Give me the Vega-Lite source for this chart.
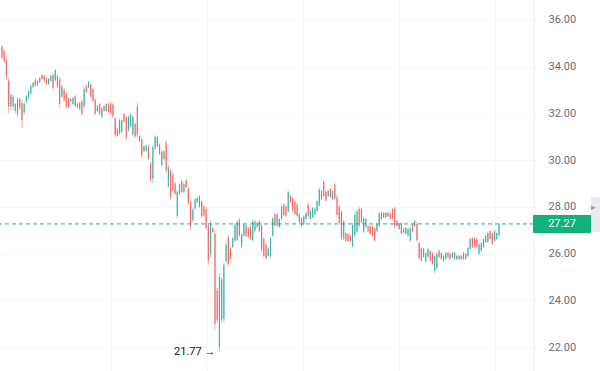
{
"$schema":"https://vega.github.io/schema/vega-lite/v6.json",
"width":534,"height":371,
"autosize":{"type":"none"},
"padding":{"left":0,"top":0,"right":66,"bottom":0},
"background":"#ffffff",
"config":{"view":{"stroke":null},"font":"Roboto"},
"datasets":{"ohlc":[
{"t":0,"o":34.85,"h":34.93,"l":34.29,"c":34.40},
{"t":1,"o":34.65,"h":34.72,"l":34.16,"c":34.25},
{"t":2,"o":34.30,"h":34.42,"l":33.43,"c":33.60},
{"t":3,"o":33.40,"h":33.56,"l":32.02,"c":32.30},
{"t":4,"o":32.30,"h":32.87,"l":32.15,"c":32.80},
{"t":5,"o":32.70,"h":32.79,"l":32.15,"c":32.30},
{"t":6,"o":32.10,"h":32.45,"l":32.02,"c":32.40},
{"t":7,"o":32.00,"h":32.70,"l":31.80,"c":32.60},
{"t":8,"o":32.62,"h":32.70,"l":32.15,"c":32.25},
{"t":9,"o":32.45,"h":32.58,"l":31.38,"c":31.70},
{"t":10,"o":32.05,"h":32.49,"l":31.93,"c":32.40},
{"t":11,"o":32.50,"h":32.79,"l":32.45,"c":32.75},
{"t":12,"o":32.65,"h":33.00,"l":32.58,"c":32.95},
{"t":13,"o":32.85,"h":33.22,"l":32.79,"c":33.17},
{"t":14,"o":33.12,"h":33.35,"l":33.09,"c":33.30},
{"t":15,"o":33.45,"h":33.52,"l":33.13,"c":33.20},
{"t":16,"o":33.20,"h":33.43,"l":33.17,"c":33.40},
{"t":17,"o":33.33,"h":33.56,"l":33.30,"c":33.52},
{"t":18,"o":33.65,"h":33.69,"l":33.43,"c":33.47},
{"t":19,"o":33.60,"h":33.65,"l":33.35,"c":33.40},
{"t":20,"o":33.50,"h":33.56,"l":33.22,"c":33.27},
{"t":21,"o":33.26,"h":33.52,"l":33.22,"c":33.48},
{"t":22,"o":33.40,"h":33.65,"l":33.35,"c":33.60},
{"t":23,"o":33.65,"h":33.73,"l":33.00,"c":33.10},
{"t":24,"o":33.42,"h":33.90,"l":33.35,"c":33.85},
{"t":25,"o":33.58,"h":33.65,"l":33.09,"c":33.15},
{"t":26,"o":33.45,"h":33.56,"l":32.23,"c":32.40},
{"t":27,"o":32.72,"h":33.22,"l":32.66,"c":33.15},
{"t":28,"o":33.00,"h":33.09,"l":32.49,"c":32.55},
{"t":29,"o":32.85,"h":32.92,"l":32.23,"c":32.30},
{"t":30,"o":32.65,"h":32.70,"l":32.23,"c":32.28},
{"t":31,"o":32.52,"h":32.66,"l":32.49,"c":32.62},
{"t":32,"o":32.40,"h":32.70,"l":32.36,"c":32.66},
{"t":33,"o":32.72,"h":32.79,"l":32.28,"c":32.33},
{"t":34,"o":32.42,"h":32.45,"l":32.23,"c":32.26},
{"t":35,"o":32.20,"h":32.49,"l":32.15,"c":32.45},
{"t":36,"o":32.50,"h":32.58,"l":31.93,"c":32.00},
{"t":37,"o":32.30,"h":33.13,"l":32.23,"c":33.05},
{"t":38,"o":33.15,"h":33.22,"l":32.87,"c":32.92},
{"t":39,"o":33.12,"h":33.39,"l":33.09,"c":33.35},
{"t":40,"o":33.25,"h":33.30,"l":32.66,"c":32.72},
{"t":41,"o":33.02,"h":33.09,"l":32.49,"c":32.55},
{"t":42,"o":32.58,"h":32.66,"l":31.93,"c":32.00},
{"t":43,"o":32.10,"h":32.36,"l":32.06,"c":32.32},
{"t":44,"o":32.40,"h":32.45,"l":31.93,"c":32.00},
{"t":45,"o":31.85,"h":32.28,"l":31.80,"c":32.22},
{"t":46,"o":32.32,"h":32.36,"l":32.06,"c":32.10},
{"t":47,"o":32.10,"h":32.45,"l":32.06,"c":32.40},
{"t":48,"o":32.40,"h":32.45,"l":32.02,"c":32.06},
{"t":49,"o":32.42,"h":32.49,"l":31.93,"c":32.00},
{"t":50,"o":32.38,"h":32.45,"l":31.80,"c":31.88},
{"t":51,"o":31.78,"h":31.85,"l":30.99,"c":31.08},
{"t":52,"o":31.32,"h":31.38,"l":30.99,"c":31.03},
{"t":53,"o":31.15,"h":31.80,"l":31.08,"c":31.72},
{"t":54,"o":31.22,"h":31.76,"l":31.16,"c":31.70},
{"t":55,"o":31.97,"h":32.02,"l":31.59,"c":31.65},
{"t":56,"o":31.85,"h":31.93,"l":30.86,"c":30.98},
{"t":57,"o":31.28,"h":31.93,"l":31.21,"c":31.86},
{"t":58,"o":31.45,"h":32.02,"l":31.38,"c":31.95},
{"t":59,"o":31.10,"h":31.93,"l":30.99,"c":31.85},
{"t":60,"o":31.55,"h":31.63,"l":30.95,"c":31.02},
{"t":61,"o":32.30,"h":32.49,"l":30.95,"c":31.10},
{"t":62,"o":31.04,"h":31.08,"l":30.78,"c":30.82},
{"t":63,"o":30.90,"h":30.99,"l":30.09,"c":30.20},
{"t":64,"o":30.38,"h":30.65,"l":30.35,"c":30.60},
{"t":65,"o":30.40,"h":30.65,"l":30.35,"c":30.62},
{"t":66,"o":30.58,"h":30.65,"l":30.01,"c":30.08},
{"t":67,"o":29.85,"h":29.92,"l":29.07,"c":29.15},
{"t":68,"o":29.20,"h":30.65,"l":29.02,"c":30.55},
{"t":69,"o":30.50,"h":31.08,"l":30.43,"c":31.00},
{"t":70,"o":30.60,"h":31.03,"l":30.56,"c":30.98},
{"t":71,"o":30.68,"h":30.73,"l":30.22,"c":30.28},
{"t":72,"o":29.78,"h":30.43,"l":29.71,"c":30.36},
{"t":73,"o":30.38,"h":30.43,"l":30.01,"c":30.05},
{"t":74,"o":30.75,"h":30.86,"l":29.45,"c":29.55},
{"t":75,"o":28.90,"h":29.79,"l":28.80,"c":29.70},
{"t":76,"o":29.55,"h":29.66,"l":28.29,"c":28.40},
{"t":77,"o":29.38,"h":29.45,"l":28.64,"c":28.72},
{"t":78,"o":29.00,"h":29.07,"l":28.51,"c":28.56},
{"t":79,"o":27.62,"h":28.72,"l":27.52,"c":28.65},
{"t":80,"o":28.56,"h":29.02,"l":28.51,"c":28.96},
{"t":81,"o":29.08,"h":29.15,"l":28.59,"c":28.64},
{"t":82,"o":28.64,"h":29.02,"l":28.59,"c":28.97},
{"t":83,"o":29.14,"h":29.19,"l":28.81,"c":28.85},
{"t":84,"o":28.78,"h":28.85,"l":28.08,"c":28.15},
{"t":85,"o":28.20,"h":28.29,"l":27.01,"c":27.15},
{"t":86,"o":27.42,"h":27.95,"l":27.35,"c":27.88},
{"t":87,"o":27.92,"h":28.38,"l":27.87,"c":28.33},
{"t":88,"o":28.20,"h":28.42,"l":28.17,"c":28.38},
{"t":89,"o":28.00,"h":28.51,"l":27.95,"c":28.46},
{"t":90,"o":28.22,"h":28.29,"l":27.52,"c":27.60},
{"t":91,"o":28.02,"h":28.08,"l":27.57,"c":27.62},
{"t":92,"o":27.90,"h":28.00,"l":27.01,"c":27.10},
{"t":93,"o":27.20,"h":27.31,"l":25.51,"c":25.70},
{"t":94,"o":26.00,"h":27.44,"l":25.81,"c":27.30},
{"t":95,"o":27.10,"h":27.14,"l":26.88,"c":26.92},
{"t":96,"o":26.85,"h":27.01,"l":22.73,"c":23.00},
{"t":97,"o":24.40,"h":24.53,"l":23.03,"c":23.15},
{"t":98,"o":22.00,"h":25.17,"l":21.77,"c":25.00},
{"t":99,"o":23.15,"h":25.00,"l":23.03,"c":24.90},
{"t":100,"o":23.20,"h":25.60,"l":23.03,"c":25.50},
{"t":101,"o":25.68,"h":26.45,"l":25.60,"c":26.38},
{"t":102,"o":26.70,"h":26.80,"l":25.43,"c":25.55},
{"t":103,"o":26.22,"h":26.28,"l":25.73,"c":25.78},
{"t":104,"o":26.28,"h":26.71,"l":26.24,"c":26.66},
{"t":105,"o":26.56,"h":27.31,"l":26.50,"c":27.24},
{"t":106,"o":26.58,"h":27.44,"l":26.50,"c":27.36},
{"t":107,"o":27.45,"h":27.52,"l":26.71,"c":26.78},
{"t":108,"o":26.30,"h":26.88,"l":26.24,"c":26.82},
{"t":109,"o":26.76,"h":27.31,"l":26.71,"c":27.26},
{"t":110,"o":27.18,"h":27.22,"l":26.71,"c":26.76},
{"t":111,"o":27.10,"h":27.14,"l":26.67,"c":26.72},
{"t":112,"o":27.16,"h":27.22,"l":26.58,"c":26.64},
{"t":113,"o":26.58,"h":27.44,"l":26.50,"c":27.38},
{"t":114,"o":26.98,"h":27.44,"l":26.92,"c":27.38},
{"t":115,"o":27.14,"h":27.35,"l":27.10,"c":27.31},
{"t":116,"o":27.38,"h":27.44,"l":26.92,"c":26.98},
{"t":117,"o":27.22,"h":27.31,"l":26.07,"c":26.18},
{"t":118,"o":26.62,"h":26.71,"l":25.81,"c":25.90},
{"t":119,"o":26.38,"h":26.45,"l":25.73,"c":25.80},
{"t":120,"o":25.90,"h":26.28,"l":25.85,"c":26.22},
{"t":121,"o":25.88,"h":26.71,"l":25.81,"c":26.65},
{"t":122,"o":26.78,"h":27.57,"l":26.71,"c":27.50},
{"t":123,"o":27.68,"h":27.74,"l":27.14,"c":27.20},
{"t":124,"o":27.20,"h":27.74,"l":27.14,"c":27.68},
{"t":125,"o":27.14,"h":27.52,"l":27.10,"c":27.48},
{"t":126,"o":27.50,"h":28.08,"l":27.44,"c":28.02},
{"t":127,"o":28.10,"h":28.17,"l":27.57,"c":27.63},
{"t":128,"o":28.02,"h":28.08,"l":27.57,"c":27.62},
{"t":129,"o":27.82,"h":28.72,"l":27.74,"c":28.64},
{"t":130,"o":28.47,"h":28.51,"l":28.17,"c":28.21},
{"t":131,"o":28.36,"h":28.42,"l":27.78,"c":27.84},
{"t":132,"o":28.22,"h":28.29,"l":27.65,"c":27.70},
{"t":133,"o":28.10,"h":28.17,"l":27.57,"c":27.62},
{"t":134,"o":27.36,"h":27.74,"l":27.31,"c":27.70},
{"t":135,"o":27.52,"h":27.57,"l":27.14,"c":27.18},
{"t":136,"o":27.26,"h":27.65,"l":27.22,"c":27.60},
{"t":137,"o":27.48,"h":27.78,"l":27.44,"c":27.74},
{"t":138,"o":28.10,"h":28.17,"l":27.57,"c":27.62},
{"t":139,"o":27.48,"h":27.87,"l":27.44,"c":27.82},
{"t":140,"o":27.56,"h":28.00,"l":27.52,"c":27.95},
{"t":141,"o":27.68,"h":27.95,"l":27.65,"c":27.92},
{"t":142,"o":27.82,"h":28.29,"l":27.78,"c":28.24},
{"t":143,"o":28.06,"h":28.81,"l":28.00,"c":28.74},
{"t":144,"o":28.68,"h":28.72,"l":28.29,"c":28.33},
{"t":145,"o":29.08,"h":29.15,"l":28.42,"c":28.48},
{"t":146,"o":28.66,"h":28.72,"l":28.21,"c":28.26},
{"t":147,"o":28.45,"h":28.72,"l":28.42,"c":28.68},
{"t":148,"o":28.76,"h":28.81,"l":28.38,"c":28.42},
{"t":149,"o":28.33,"h":28.72,"l":28.29,"c":28.68},
{"t":150,"o":28.95,"h":29.02,"l":28.29,"c":28.36},
{"t":151,"o":28.42,"h":28.51,"l":27.57,"c":27.65},
{"t":152,"o":28.00,"h":28.08,"l":27.22,"c":27.30},
{"t":153,"o":27.78,"h":27.87,"l":26.58,"c":26.68},
{"t":154,"o":26.65,"h":27.44,"l":26.58,"c":27.38},
{"t":155,"o":26.88,"h":26.92,"l":26.50,"c":26.54},
{"t":156,"o":26.84,"h":26.88,"l":26.50,"c":26.54},
{"t":157,"o":26.76,"h":26.80,"l":26.50,"c":26.53},
{"t":158,"o":26.32,"h":27.31,"l":26.24,"c":27.22},
{"t":159,"o":26.80,"h":27.74,"l":26.71,"c":27.65},
{"t":160,"o":26.95,"h":27.87,"l":26.88,"c":27.80},
{"t":161,"o":27.92,"h":28.00,"l":27.10,"c":27.18},
{"t":162,"o":27.90,"h":27.95,"l":27.31,"c":27.36},
{"t":163,"o":26.94,"h":27.57,"l":26.88,"c":27.50},
{"t":164,"o":27.14,"h":27.52,"l":27.10,"c":27.48},
{"t":165,"o":27.18,"h":27.22,"l":26.92,"c":26.95},
{"t":166,"o":27.18,"h":27.22,"l":26.80,"c":26.84},
{"t":167,"o":27.16,"h":27.22,"l":26.71,"c":26.76},
{"t":168,"o":27.08,"h":27.14,"l":26.50,"c":26.56},
{"t":169,"o":26.96,"h":27.31,"l":26.92,"c":27.27},
{"t":170,"o":27.20,"h":27.78,"l":27.14,"c":27.72},
{"t":171,"o":27.48,"h":27.78,"l":27.44,"c":27.74},
{"t":172,"o":27.75,"h":27.78,"l":27.52,"c":27.55},
{"t":173,"o":27.55,"h":27.78,"l":27.52,"c":27.75},
{"t":174,"o":27.75,"h":27.78,"l":27.57,"c":27.60},
{"t":175,"o":27.70,"h":27.74,"l":27.44,"c":27.48},
{"t":176,"o":27.90,"h":27.95,"l":27.44,"c":27.50},
{"t":177,"o":27.92,"h":28.00,"l":27.10,"c":27.18},
{"t":178,"o":27.40,"h":27.44,"l":27.14,"c":27.18},
{"t":179,"o":27.05,"h":27.31,"l":27.01,"c":27.27},
{"t":180,"o":27.30,"h":27.35,"l":26.80,"c":26.85},
{"t":181,"o":27.07,"h":27.10,"l":26.88,"c":26.90},
{"t":182,"o":26.84,"h":27.14,"l":26.80,"c":27.10},
{"t":183,"o":26.76,"h":27.10,"l":26.71,"c":27.06},
{"t":184,"o":26.56,"h":27.14,"l":26.50,"c":27.08},
{"t":185,"o":27.27,"h":27.31,"l":26.92,"c":26.96},
{"t":186,"o":27.17,"h":27.44,"l":27.14,"c":27.40},
{"t":187,"o":27.28,"h":27.35,"l":26.50,"c":26.58},
{"t":188,"o":26.44,"h":26.50,"l":25.73,"c":25.80},
{"t":189,"o":25.70,"h":26.28,"l":25.64,"c":26.22},
{"t":190,"o":26.20,"h":26.24,"l":25.81,"c":25.85},
{"t":191,"o":25.65,"h":26.07,"l":25.60,"c":26.02},
{"t":192,"o":25.86,"h":26.24,"l":25.81,"c":26.20},
{"t":193,"o":26.10,"h":26.15,"l":25.64,"c":25.70},
{"t":194,"o":26.02,"h":26.07,"l":25.51,"c":25.56},
{"t":195,"o":25.25,"h":25.94,"l":25.17,"c":25.88},
{"t":196,"o":25.38,"h":26.07,"l":25.30,"c":26.00},
{"t":197,"o":26.12,"h":26.15,"l":25.81,"c":25.85},
{"t":198,"o":26.03,"h":26.07,"l":25.73,"c":25.77},
{"t":199,"o":25.68,"h":25.94,"l":25.64,"c":25.90},
{"t":200,"o":25.77,"h":26.07,"l":25.73,"c":26.03},
{"t":201,"o":26.04,"h":26.07,"l":25.81,"c":25.84},
{"t":202,"o":25.99,"h":26.03,"l":25.73,"c":25.77},
{"t":203,"o":25.84,"h":26.07,"l":25.81,"c":26.04},
{"t":204,"o":25.77,"h":26.07,"l":25.73,"c":26.03},
{"t":205,"o":25.76,"h":25.94,"l":25.73,"c":25.91},
{"t":206,"o":25.91,"h":25.94,"l":25.73,"c":25.76},
{"t":207,"o":25.76,"h":25.94,"l":25.73,"c":25.91},
{"t":208,"o":26.03,"h":26.07,"l":25.73,"c":25.77},
{"t":209,"o":25.77,"h":26.03,"l":25.73,"c":25.99},
{"t":210,"o":25.90,"h":26.28,"l":25.85,"c":26.24},
{"t":211,"o":26.20,"h":26.67,"l":26.15,"c":26.62},
{"t":212,"o":26.67,"h":26.71,"l":26.24,"c":26.28},
{"t":213,"o":26.66,"h":26.71,"l":26.24,"c":26.29},
{"t":214,"o":26.62,"h":26.67,"l":26.24,"c":26.28},
{"t":215,"o":25.99,"h":26.45,"l":25.94,"c":26.40},
{"t":216,"o":26.12,"h":26.50,"l":26.07,"c":26.45},
{"t":217,"o":26.28,"h":26.67,"l":26.24,"c":26.62},
{"t":218,"o":26.49,"h":26.80,"l":26.45,"c":26.76},
{"t":219,"o":26.50,"h":26.92,"l":26.45,"c":26.88},
{"t":220,"o":26.96,"h":27.01,"l":26.58,"c":26.62},
{"t":221,"o":26.87,"h":26.92,"l":26.37,"c":26.42},
{"t":222,"o":26.55,"h":27.01,"l":26.50,"c":26.96},
{"t":223,"o":26.62,"h":26.92,"l":26.58,"c":26.88},
{"t":224,"o":26.80,"h":27.31,"l":26.71,"c":27.27}
]},
"layer":[
{"data":{"name":"ohlc"},
 "mark":{"type":"rule","strokeWidth":1,"opacity":0.45},
 "encoding":{
  "x":{"field":"t","type":"quantitative","title":null,
       "scale":{"domain":[-0.9,239.77],"nice":false,"zero":false},
       "axis":{"orient":"bottom","values":[49.1,92.3,135.6,178.8,222.1],"grid":true,"gridColor":"#f6f7f9","labels":false,"ticks":false,"domain":false,"title":null}},
  "y":{"field":"l","type":"quantitative","title":null,
       "scale":{"domain":[20.974,36.856],"nice":false,"zero":false},
       "axis":{"orient":"right","values":[22,24,26,28,30,32,34,36],"format":".2f","grid":true,"gridColor":"#f6f7f9","ticks":false,"domain":true,"domainColor":"#eef0f3","labelPadding":14,"labelAlign":"left","labelFont":"Roboto","labelFontSize":11,"labelColor":"#6a6d78","title":null}},
  "y2":{"field":"h"},
  "color":{"condition":{"test":"datum.c >= datum.o","value":"#26a69a"},"value":"#ef5350"}
 }},
{"data":{"name":"ohlc"},
 "mark":{"type":"rule","strokeWidth":1.2,"opacity":0.8},
 "encoding":{
  "x":{"field":"t","type":"quantitative","title":null},
  "y":{"field":"o","type":"quantitative","title":null},
  "y2":{"field":"c"},
  "color":{"condition":{"test":"datum.c >= datum.o","value":"#26a69a"},"value":"#ef5350"}
 }},
{"data":{"values":[{"last":27.27}]},
 "mark":{"type":"rule","strokeDash":[4,3],"strokeWidth":1,"color":"#22ab94"},
 "encoding":{"y":{"field":"last","type":"quantitative","title":null}}},
{"data":{"values":[{"last":27.27}]},
 "mark":{"type":"rect","color":"#13b27c","clip":false},
 "encoding":{
  "x":{"datum":239.32,"type":"quantitative"},
  "x2":{"datum":265.46},
  "y":{"datum":26.882,"type":"quantitative"},
  "y2":{"datum":27.652}
 }},
{"data":{"values":[{"last":27.27}]},
 "mark":{"type":"text","color":"#ffffff","font":"Roboto","fontSize":11,"align":"center","baseline":"middle"},
 "encoding":{
  "x":{"datum":252.39,"type":"quantitative"},
  "y":{"field":"last","type":"quantitative","title":null},
  "text":{"field":"last","type":"quantitative","format":".2f"}
 }},
{"data":{"values":[{"t":98,"low":21.77,"label":"21.77 →"}]},
 "mark":{"type":"text","color":"#131722","font":"Roboto","fontSize":11,"align":"right","baseline":"middle","dx":-4},
 "encoding":{
  "x":{"field":"t","type":"quantitative","title":null},
  "y":{"field":"low","type":"quantitative","title":null},
  "text":{"field":"label"}
 }},
{"data":{"values":[{"h":1}]},
 "mark":{"type":"rect","color":"#e9eaed"},
 "encoding":{
  "x":{"datum":265.46,"type":"quantitative"},
  "x2":{"datum":269.6},
  "y":{"datum":26.925,"type":"quantitative"},
  "y2":{"datum":28.423}
 }},
{"data":{"values":[{"h":1}]},
 "mark":{"type":"text","text":"▸","color":"#9598a1","fontSize":9,"align":"center","baseline":"middle"},
 "encoding":{
  "x":{"datum":266.8,"type":"quantitative"},
  "y":{"datum":27.995,"type":"quantitative"}
 }}
]
}
